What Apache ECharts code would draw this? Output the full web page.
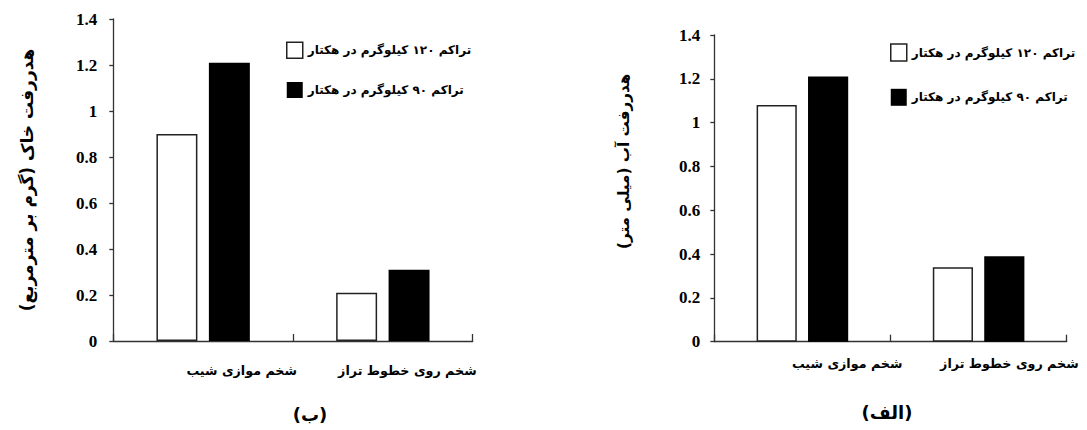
<!DOCTYPE html>
<html>
<head>
<meta charset="utf-8">
<script src="https://cdn.jsdelivr.net/npm/echarts@6/dist/echarts.min.js"></script>
<style>
html,body{margin:0;padding:0;background:#fff;}
#c{width:1087px;height:430px;}
</style>
</head>
<body>
<div id="c"></div>
<script>
// ---- data ----
var categories = ['شخم موازی شیب', 'شخم روی خطوط تراز'];
var seriesNames = ['تراکم ۱۲۰ کیلوگرم در هکتار', 'تراکم ۹۰ کیلوگرم در هکتار'];
var soilLoss120 = [0.90, 0.21];
var soilLoss90  = [1.21, 0.31];
var runoff120   = [1.08, 0.34];
var runoff90    = [1.21, 0.39];
var yMin = 0, yMax = 1.4, yStep = 0.2;
var soilTitle = 'هدررفت خاک (گرم بر مترمربع)\u200F';
var runoffTitle = 'هدررفت آب (میلی متر)\u200F';
var captionLeft = '(ب)';
var captionRight = '(الف)';

var AR = "'DejaVu Sans', sans-serif";
var NUM = "'Liberation Serif', 'Times New Roman', Times, serif";
var axisColor = '#333';

function yAxisOpt(gridIndex, name, gap, margin, pad, nameSize) {
  return {
    type: 'value', gridIndex: gridIndex, min: yMin, max: yMax, interval: yStep,
    name: name, nameLocation: 'middle', nameGap: gap, nameRotate: 90,
    nameTextStyle: {fontFamily: AR, fontSize: nameSize, fontWeight: 'bold', color: '#000', padding: pad},
    axisLine: {show: true, lineStyle: {color: axisColor, width: 1.3}},
    axisTick: {show: true, inside: false, length: 4, lineStyle: {color: axisColor, width: 1.3}},
    axisLabel: {fontFamily: NUM, fontSize: 17, fontWeight: 'bold', color: '#000', margin: margin},
    splitLine: {show: false}
  };
}
function xAxisMain(gridIndex) {
  return {
    type: 'category', gridIndex: gridIndex, data: categories, position: 'bottom',
    axisLine: {show: true, lineStyle: {color: axisColor, width: 1.3}},
    axisTick: {show: true, inside: true, length: 7, lineStyle: {color: axisColor, width: 1.3}},
    axisLabel: {show: false}
  };
}
function xAxisLabels(gridIndex, margin, shift) {
  return {
    type: 'category', gridIndex: gridIndex, data: [''].concat(categories), position: 'bottom',
    boundaryGap: false,
    axisLine: {show: false}, axisTick: {show: false}, splitLine: {show: false},
    axisLabel: {interval: 0, align: 'right', margin: margin, fontFamily: AR, fontSize: 12.7,
                fontWeight: 'bold', color: '#000', padding: [0, -shift, 0, 0]}
  };
}
function legendOpt(left, top, w, h, gap) {
  return {
    left: left, top: top, orient: 'vertical', align: 'left', padding: 0,
    itemWidth: w, itemHeight: h, itemGap: gap,
    textStyle: {fontFamily: AR, fontSize: 12, fontWeight: 'bold', color: '#000'},
    data: [
      {name: seriesNames[0], icon: 'rect', itemStyle: {color: '#fff', borderColor: '#222', borderWidth: 1.5}},
      {name: seriesNames[1], icon: 'rect', itemStyle: {color: '#000', borderColor: '#000', borderWidth: 0}}
    ],
    selectedMode: false
  };
}
function barSeries(name, xi, yi, data, white) {
  return {
    type: 'bar', name: name, xAxisIndex: xi, yAxisIndex: yi, data: data,
    barWidth: '22.8%', barGap: '28%',
    itemStyle: white ? {color: '#fff', borderColor: '#222', borderWidth: 1.5}
                     : {color: '#000', borderColor: '#000', borderWidth: 0},
    emphasis: {disabled: true}, silent: true, animation: false
  };
}

var chart = echarts.init(document.getElementById('c'), null, {renderer: 'svg'});
chart.setOption({
  animation: false,
  backgroundColor: '#fff',
  grid: [
    {left: 113.3, top: 19, width: 359.4, height: 322},
    {left: 714.3, top: 35, width: 352.4, height: 306.7}
  ],
  xAxis: [xAxisMain(0), xAxisMain(1), xAxisLabels(0, 23, 4), xAxisLabels(1, 15, 12)],
  yAxis: [yAxisOpt(0, soilTitle, 78, 16, [0, 0, 0, 0], 17),
          yAxisOpt(1, runoffTitle, 83, 14, [0, 0, 0, 54], 15.2)],
  legend: [legendOpt(286, 41.5, 16, 16, 23), legendOpt(890, 43.3, 16, 17, 27)],
  title: [
    {text: captionLeft, left: 310, top: 405, textAlign: 'center', padding: 0,
     textStyle: {fontFamily: AR, fontSize: 18, fontWeight: 'bold', color: '#000'}},
    {text: captionRight, left: 887, top: 403, textAlign: 'center', padding: 0,
     textStyle: {fontFamily: AR, fontSize: 18, fontWeight: 'bold', color: '#000'}}
  ],
  series: [
    barSeries(seriesNames[0], 0, 0, soilLoss120, true),
    barSeries(seriesNames[1], 0, 0, soilLoss90, false),
    barSeries(seriesNames[0], 1, 1, runoff120, true),
    barSeries(seriesNames[1], 1, 1, runoff90, false)
  ]
});
</script>
</body>
</html>
